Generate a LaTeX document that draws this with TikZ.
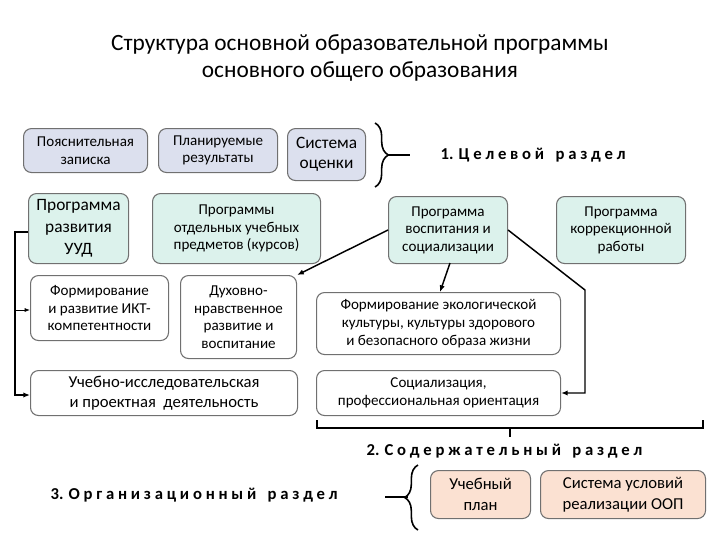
\documentclass[tikz,border=0pt]{standalone}
\usepackage{fontspec}
\setmainfont{Carlito}
\usetikzlibrary{arrows.meta,decorations.pathreplacing}
\definecolor{lav}{HTML}{DCE0EE}
\definecolor{cy}{HTML}{DCF2EC}
\definecolor{pch}{HTML}{FBE1D2}
\definecolor{bd}{HTML}{707070}
\tikzset{
 bx/.style={draw=bd,rounded corners=6pt,line width=0.8pt,align=center,inner sep=0pt,font=\fontsize{11.3}{13.2}\selectfont},
 arr/.style={-{Latex[length=5pt,width=4pt]},line width=1.1pt},
 hd/.style={font=\bfseries\fontsize{12.5}{14}\selectfont}
}
\newcommand{\mybox}[6]{\node[bx,fill=#5,minimum width=#3*0.75pt-#1*0.75pt,minimum height=#4*0.75pt-#2*0.75pt,anchor=north west] (#6) at (#1,#2) {};}
\begin{document}
\begin{tikzpicture}[x=0.75pt,y=-0.75pt]
\useasboundingbox (0,0) rectangle (720,540);
\node[font=\fontsize{17.5}{20.5}\selectfont,align=center] (title) at (360,58) {Структура основной образовательной программы\\основного общего образования};
\mybox{23}{128}{147}{172}{lav}{a1}\node[bx,draw=none] at (a1) {Пояснительная\\записка};
\mybox{158}{128}{277}{172}{lav}{a2}\node[bx,draw=none] at (a2) {Планируемые\\результаты};
\mybox{287}{128}{365}{180}{lav}{a3}\node[bx,draw=none,font=\fontsize{13}{15}\selectfont] at (a3) {Система\\оценки};
\draw[line width=1.2pt,decorate,decoration={brace,amplitude=10pt}] (375,123) -- (375,187);
\coordinate (bt1) at (388,155);
\draw[line width=1.2pt] (bt1) -- (410,155);
\node[hd,anchor=west] (h1) at (436,155) {1. Ц е л е в о й \ \ р а з д е л};
\mybox{28}{193}{128}{263}{cy}{b1}\node[bx,draw=none,font=\fontsize{13}{16.5}\selectfont] at (b1) {Программа\\развития\\УУД};
\mybox{152}{193}{320}{263}{cy}{b2}\node[bx,draw=none] at (b2) {Программы\\отдельных учебных\\предметов (курсов)};
\mybox{388}{196}{507}{263}{cy}{b3}\node[bx,draw=none] at (b3) {Программа\\воспитания и\\социализации};
\mybox{556}{196}{685}{263}{cy}{b4}\node[bx,draw=none] at (b4) {Программа\\коррекционной\\работы};
\mybox{30}{275}{168}{340}{white}{c1}\node[bx,draw=none] at (c1) {Формирование\\и развитие ИКТ-\\компетентности};
\mybox{180}{275}{296}{358}{white}{c2}\node[bx,draw=none] at (c2) {Духовно-\\нравственное\\развитие и\\воспитание};
\mybox{316}{292}{560}{354}{white}{c3}\node[bx,draw=none] at (c3) {Формирование экологической\\культуры, культуры здорового\\и безопасного образа жизни};
\mybox{30}{370}{297}{415}{white}{d1}\node[bx,draw=none,font=\fontsize{12.5}{15}\selectfont] at (d1) {Учебно-исследовательская\\и проектная \ деятельность};
\mybox{316}{370}{560}{415}{white}{d2}\node[bx,draw=none] at (d2) {Социализация,\\профессиональная ориентация};
% arrows
\draw[arr] (b1.west |- 0,232) -- (15,232) -- (15,395) -- (d1.west |- 0,395);
\coordinate (vj) at (15,310);
\draw[-{Latex[length=4pt,width=3pt]},line width=0.6pt] (vj) -- (c1.west |- 0,310);
\draw[arr] (b3.west |- 0,230) -- (c2.north east);
\draw[arr] (450,263) -- (440,292);
\coordinate (r1) at (585,290);
\draw[arr] (b3.east |- 0,230) -- (r1) -- (585,393) -- (d2.east |- 0,393);
% brace 2
\draw[line width=1.2pt] (317,420) -- (317,428) -- (703,428) -- (703,420);
\draw[line width=1.2pt] (510,428) -- (510,437);
\node[hd,anchor=west] (h2) at (362,451) {2. С о д е р ж а т е л ь н ы й \ \ р а з д е л};
\node[hd,anchor=west] (h3) at (46,495) {3. О р г а н и з а ц и о н н ы й \ \ р а з д е л};
\draw[line width=1.2pt,decorate,decoration={brace,amplitude=10pt,mirror}] (418,465) -- (418,530);
\draw[line width=1.2pt] (385,497) -- (408,497);
\mybox{430}{470}{530}{518}{pch}{e1}\node[bx,draw=none,font=\fontsize{12.5}{16}\selectfont] at (e1) {Учебный\\план};
\mybox{540}{470}{705}{518}{pch}{e2}\node[bx,draw=none,font=\fontsize{12.5}{16}\selectfont] at (e2) {Система условий\\реализации ООП};
\end{tikzpicture}
\end{document}
